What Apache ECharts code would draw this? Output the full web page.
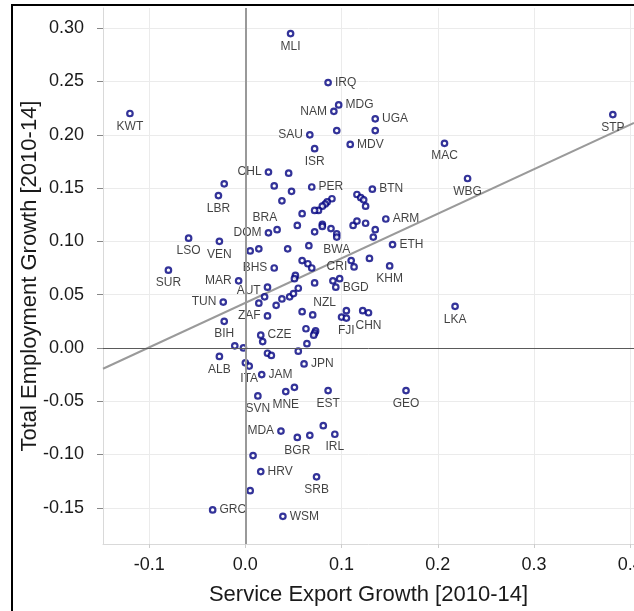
<!DOCTYPE html>
<html>
<head>
<meta charset="utf-8">
<script src="https://cdn.jsdelivr.net/npm/echarts@6/dist/echarts.min.js"></script>
<style>
  html, body { margin: 0; padding: 0; background: #fff; }
  #main { width: 634px; height: 611px; }
</style>
</head>
<body>
<div id="main"></div>
<script>
// labelled countries
var codes = ['KWT','MLI','IRQ','MDG','NAM','UGA','SAU','MDV','ISR','MAC','STP','WBG','CHL','LBR','PER','BTN','BRA','DOM','ARM','ETH','LSO','VEN','BWA','BHS','CRI','SUR','KHM','MAR','AUT','BGD','TUN','NZL','ZAF','FJI','CHN','BIH','LKA','CZE','ALB','ITA','JPN','JAM','SVN','MNE','EST','GEO','MDA','BGR','IRL','HRV','SRB','GRC','WSM'];
var codeX = [-0.120,0.047,0.086,0.097,0.092,0.135,0.067,0.109,0.072,0.207,0.382,0.231,0.024,-0.028,0.069,0.132,0.038,0.024,0.146,0.153,-0.059,-0.027,0.095,0.030,0.113,-0.080,0.150,-0.007,0.023,0.094,-0.023,0.072,0.023,0.105,0.128,-0.022,0.218,0.016,-0.027,0.004,0.061,0.017,0.013,0.042,0.086,0.167,0.037,0.054,0.093,0.016,0.074,-0.034,0.039];
var codeY = [0.220,0.295,0.249,0.228,0.222,0.215,0.200,0.191,0.187,0.192,0.219,0.159,0.165,0.143,0.151,0.149,0.138,0.108,0.121,0.097,0.103,0.100,0.104,0.075,0.076,0.073,0.077,0.063,0.057,0.057,0.043,0.061,0.030,0.028,0.033,0.025,0.039,0.012,-0.008,-0.017,-0.015,-0.025,-0.045,-0.041,-0.040,-0.040,-0.078,-0.084,-0.081,-0.116,-0.121,-0.152,-0.158];

// countries without a label
var otherX = [0.095,0.135,0.045,-0.022,0.030,0.048,0.090,0.085,0.083,0.080,0.076,0.072,0.059,0.116,0.120,0.123,0.125,0.054,0.033,0.072,0.080,0.080,0.089,0.095,0.112,0.116,0.125,0.135,0.133,0.005,0.014,0.044,0.066,0.059,0.065,0.069,0.052,0.051,0.091,0.098,0.110,0.129,0.020,0.014,0.032,0.038,0.046,0.050,0.055,0.059,0.070,0.105,0.100,0.122,0.063,0.073,0.072,0.071,0.064,0.055,0.018,-0.011,-0.002,0.023,0.027,0.000,0.051,0.067,0.081,0.008,0.005];
var otherY = [0.204,0.204,0.164,0.154,0.152,0.147,0.140,0.137,0.135,0.133,0.129,0.129,0.126,0.144,0.141,0.139,0.133,0.115,0.111,0.109,0.116,0.114,0.112,0.107,0.115,0.119,0.117,0.111,0.104,0.091,0.093,0.093,0.096,0.082,0.079,0.075,0.068,0.065,0.063,0.065,0.082,0.084,0.048,0.042,0.040,0.046,0.048,0.051,0.056,0.034,0.031,0.035,0.029,0.035,0.018,0.016,0.014,0.012,0.004,-0.003,0.006,0.002,0.000,-0.005,-0.007,-0.014,-0.037,-0.082,-0.073,-0.101,-0.134];

// fitted line
var fitIntercept = 0.0423;
var fitSlope = 0.418;

var xTicks = [-0.1, 0.0, 0.1, 0.2, 0.3, 0.4];
var yTicks = [-0.15, -0.10, -0.05, 0.00, 0.05, 0.10, 0.15, 0.20, 0.25, 0.30];

var xMin = -0.148, xMax = 0.404;
var yMin = -0.184, yMax = 0.319;

// where each label sits relative to its point
var labelPlace = {
  NAM: ['left'], SAU: ['left'], CHL: ['left'], DOM: ['left'], BHS: ['left'], CRI: ['left'],
  MAR: ['left'], AUT: ['left', 0, 3], TUN: ['left'], ZAF: ['left'], MDA: ['left'],
  IRQ: ['right'], MDG: ['right'], UGA: ['right'], MDV: ['right'], PER: ['right'], BTN: ['right'],
  ARM: ['right'], ETH: ['right'], BGD: ['right'], CZE: ['right'], JPN: ['right'], JAM: ['right'],
  HRV: ['right'], GRC: ['right'], WSM: ['right'],
  BRA: ['bottom', -17, 4], NZL: ['bottom', 10, 7]
};

var myChart = echarts.init(document.getElementById('main'));

var labelled = [];
for (var i = 0; i < codes.length; i++) {
  var p = labelPlace[codes[i]] || ['bottom'];
  labelled.push({
    name: codes[i],
    value: [codeX[i], codeY[i]],
    label: { position: p[0], offset: [p[1] || 0, p[2] || 0] }
  });
}
var others = [];
for (var j = 0; j < otherX.length; j++) {
  others.push([otherX[j], otherY[j]]);
}

var pointStyle = { color: '#fff', borderColor: '#000080', borderWidth: 2.2 };

var option = {
  animation: false,
  textStyle: { fontFamily: 'Liberation Sans, Arial, sans-serif' },
  grid: { left: 103, right: 0, top: 8, bottom: 67, outerBoundsMode: 'none' },
  graphic: [{
    type: 'rect',
    shape: { x: 12, y: 5, width: 800, height: 800 },
    style: { fill: 'none', stroke: '#000', lineWidth: 2 },
    z: 100, silent: true
  }],
  xAxis: {
    type: 'value', min: xMin, max: xMax,
    name: 'Service Export Growth [2010-14]',
    nameLocation: 'middle', nameGap: 40, nameMoveOverlap: false,
    nameTextStyle: { fontSize: 22, color: '#1a1a1a' },
    axisLine: { show: true, onZero: false, lineStyle: { color: '#d9d9d9', width: 1 } },
    axisTick: { show: true, length: 4, customValues: xTicks, lineStyle: { color: '#cccccc' } },
    axisLabel: { customValues: xTicks, fontSize: 18, color: '#1a1a1a', margin: 12,
      formatter: function (v) { return v.toFixed(1); } },
    splitLine: { show: true, lineStyle: { color: '#ebebeb', width: 1 } }
  },
  yAxis: {
    type: 'value', min: yMin, max: yMax,
    name: 'Total Employment Growth [2010-14]',
    nameLocation: 'middle', nameGap: 62, nameMoveOverlap: false,
    nameTextStyle: { fontSize: 22, color: '#1a1a1a' },
    axisLine: { show: true, onZero: false, lineStyle: { color: '#d9d9d9', width: 1 } },
    axisTick: { show: true, length: 6, customValues: yTicks, lineStyle: { color: '#888888' } },
    axisLabel: { customValues: yTicks, fontSize: 18, color: '#1a1a1a', margin: 19,
      formatter: function (v) { return v.toFixed(2); } },
    splitLine: { show: true, lineStyle: { color: '#ebebeb', width: 1 } }
  },
  series: [
    {
      type: 'line', silent: true, symbol: 'none',
      data: [[xMin, fitIntercept + fitSlope * xMin], [xMax, fitIntercept + fitSlope * xMax]],
      lineStyle: { color: '#9a9a9a', width: 2 },
      z: 1,
      markLine: {
        silent: true, symbol: 'none', label: { show: false },
        data: [
          { xAxis: 0, lineStyle: { color: '#999999', width: 2, type: 'solid' } },
          { yAxis: 0, lineStyle: { color: '#5a5a5a', width: 1, type: 'solid' } }
        ]
      }
    },
    {
      type: 'scatter', symbol: 'circle', symbolSize: 5.5,
      itemStyle: pointStyle, data: others, z: 3
    },
    {
      type: 'scatter', symbol: 'circle', symbolSize: 5.5,
      itemStyle: pointStyle, data: labelled, z: 3,
      label: {
        show: true, formatter: '{b}', fontSize: 12, color: '#111', distance: 3
      }
    }
  ]
};
myChart.setOption(option);
</script>
</body>
</html>
